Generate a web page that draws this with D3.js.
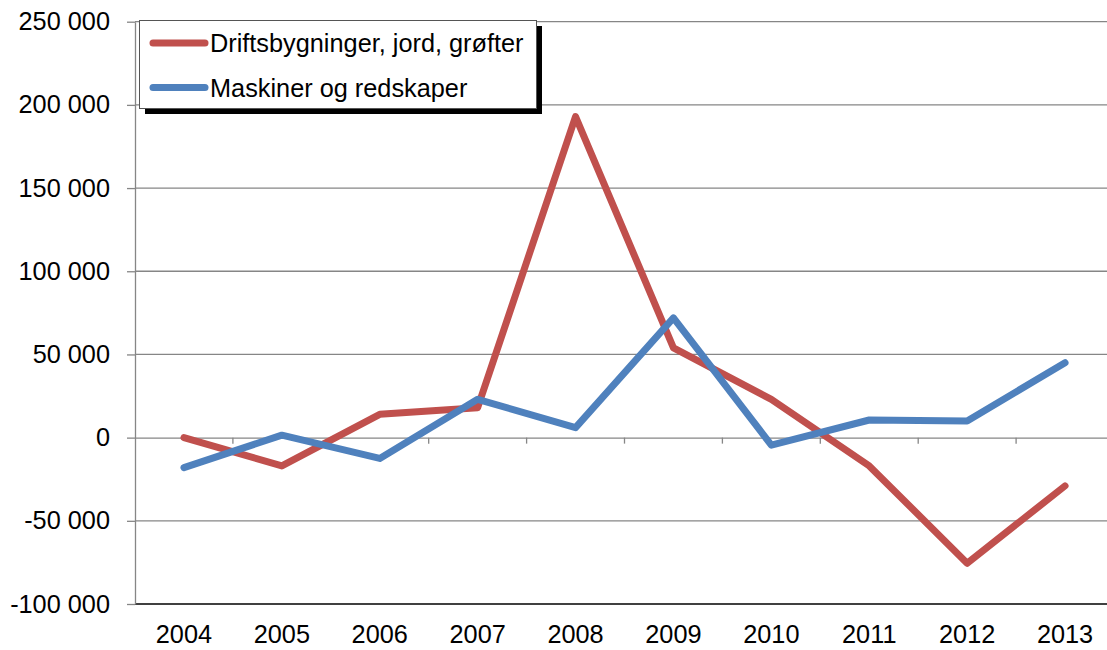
<!DOCTYPE html>
<html><head><meta charset="utf-8">
<script src="https://cdn.jsdelivr.net/npm/d3@7"></script>
<style>body{margin:0;background:#fff}svg{display:block;font-family:"Liberation Sans",Arial,sans-serif}</style>
</head><body><svg id="c" width="1107" height="650"></svg>
<script>
const years = ["2004","2005","2006","2007","2008","2009","2010","2011","2012","2013"];
const drifts = [0, -17000, 14000, 18000, 193000, 54000, 23000, -17000, -75500, -29000];
const maskiner = [-18000, 1500, -12500, 23000, 6000, 72000, -4500, 10600, 10000, 45000];
const yTicks = [-100000, -50000, 0, 50000, 100000, 150000, 200000, 250000];
const seriesNames = ["Driftsbygninger, jord, grøfter", "Maskiner og redskaper"];
const colors = ["#C0504D", "#4F81BD"];

(function () {
const svg = d3.select("#c");
const FS = 25.3;
const pLeft = 135, pRight = 1114, pTop = 21.7, pBottom = 604;
const x = d3.scaleBand().domain(years).range([pLeft, pRight]);
const y = d3.scaleLinear().domain([-100000, 250000]).range([pBottom, pTop]);
const fmt = v => d3.format(",")(v).replace(/,/g, " ").replace("−", "-");

// gridlines
svg.append("g").selectAll("line").data(yTicks.filter(v => v !== 0 && v !== -100000)).join("line")
  .attr("x1", pLeft).attr("x2", 1107).attr("y1", d => y(d)).attr("y2", d => y(d))
  .attr("stroke", "#868686").attr("stroke-width", 1.3);
// bottom line
svg.append("line").attr("x1", pLeft).attr("x2", 1107).attr("y1", y(-100000)).attr("y2", y(-100000))
  .attr("stroke", "#000").attr("stroke-width", 1.3);

// y axis
const yAxis = svg.append("g").attr("transform", `translate(${pLeft},0)`)
  .call(d3.axisLeft(y).tickValues(yTicks).tickSize(8).tickSizeOuter(0).tickFormat(fmt).tickPadding(17));
yAxis.select(".domain").attr("stroke", "#868686").attr("stroke-width", 1.3);
yAxis.selectAll(".tick line").attr("stroke", "#868686").attr("stroke-width", 1.3);
yAxis.selectAll("text").attr("font-size", FS).attr("fill", "#000").attr("font-family", "Liberation Sans, Arial, sans-serif");

// x axis at zero
const xAxis = svg.append("g").attr("transform", `translate(0,${y(0)})`)
  .call(d3.axisBottom(x).tickSize(0).tickSizeOuter(0).tickFormat(""));
xAxis.select(".domain").attr("stroke", "#868686").attr("stroke-width", 1.3).attr("d", `M${pLeft},0.5H1107`);
svg.append("g").selectAll("line").data(years.slice(1)).join("line")
  .attr("x1", d => x(d)).attr("x2", d => x(d)).attr("y1", y(0)).attr("y2", y(0) + 6)
  .attr("stroke", "#868686").attr("stroke-width", 1.3);
// x labels
svg.append("g").selectAll("text").data(years).join("text")
  .attr("x", d => x(d) + x.bandwidth() / 2).attr("y", 643)
  .attr("text-anchor", "middle").attr("font-size", FS).attr("fill", "#000").text(d => d);

// lines
const line = d3.line().x((d, i) => x(years[i]) + x.bandwidth() / 2).y(d => y(d));
[drifts, maskiner].forEach((s, i) => {
  svg.append("path").datum(s).attr("d", line).attr("fill", "none")
    .attr("stroke", colors[i]).attr("stroke-width", 7)
    .attr("stroke-linejoin", "round").attr("stroke-linecap", "round");
});

// legend
const lg = svg.append("g");
lg.append("rect").attr("x", 145).attr("y", 26).attr("width", 397).attr("height", 88).attr("fill", "#000");
lg.append("rect").attr("x", 139.5).attr("y", 20.5).attr("width", 397).attr("height", 88)
  .attr("fill", "#fff").attr("stroke", "#555").attr("stroke-width", 1);
seriesNames.forEach((n, i) => {
  const cy = 43 + i * 44.5;
  lg.append("line").attr("x1", 153).attr("x2", 205).attr("y1", cy).attr("y2", cy)
    .attr("stroke", colors[i]).attr("stroke-width", 7).attr("stroke-linecap", "round");
  lg.append("text").attr("x", 210).attr("y", cy + 9).attr("font-size", FS).attr("fill", "#000").text(n);
});
})();
</script></body></html>
